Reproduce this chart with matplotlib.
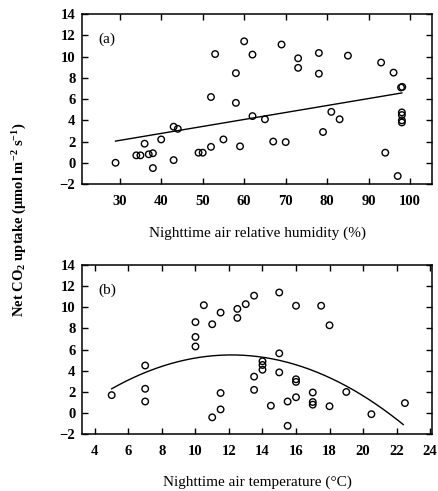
import matplotlib
matplotlib.use("Agg")
import matplotlib.pyplot as plt
import numpy as np

# ---- data: panel (a) relative humidity ----
rh_x = [29, 34, 35, 36, 37, 38, 38, 40, 43, 44, 43, 49, 50, 52, 52, 53, 55, 58, 58, 59,
        60, 62, 62, 65, 67, 69, 70, 73, 73, 78, 78, 79, 81, 83, 85, 93, 94, 96, 97, 97.8,
        98.1, 98, 98, 98, 98]
rh_y = [0.0, 0.7, 0.7, 1.8, 0.8, 0.9, -0.5, 2.2, 3.4, 3.2, 0.25, 0.95, 0.95, 1.5, 6.2,
        10.25, 2.2, 8.45, 5.65, 1.55, 11.45, 10.2, 4.4, 4.1, 2.0, 11.15, 1.95, 9.85, 8.95,
        10.35, 8.4, 2.9, 4.8, 4.1, 10.1, 9.45, 0.95, 8.5, -1.25, 7.1, 7.15, 4.75, 4.5,
        4.0, 3.8]
rh_fit_coef = [0.135, 0.0658]      # intercept, slope
rh_fit_range = [29, 98]

# ---- data: panel (b) temperature ----
t_x = [5, 7, 7, 7, 10, 10, 10, 10.5, 11, 11.5, 11.5, 11.5, 11, 12.5, 12.5, 13, 13.5, 13.5,
       13.5, 14, 14, 14, 14.5, 15, 15, 15, 15.5, 15.5, 16, 16, 16, 16, 17, 17, 17, 17.5,
       18, 18, 19, 20.5, 22.5]
t_y = [1.7, 4.5, 2.3, 1.1, 8.6, 7.2, 6.3, 10.2, 8.4, 9.5, 1.9, 0.35, -0.4, 9.85, 9.0,
       10.3, 11.1, 3.45, 2.2, 4.9, 4.55, 4.1, 0.7, 11.4, 5.65, 3.85, 1.1, -1.2, 10.15, 3.2,
       2.95, 1.5, 1.95, 1.05, 0.8, 10.15, 8.3, 0.65, 2.0, -0.1, 0.95]
t_fit_coef = [-3.74, 1.521, -0.0626]   # a + b x + c x^2
t_fit_range = [5, 22.4]

rh_ticks = [30, 40, 50, 60, 70, 80, 90, 100]
t_ticks = [4, 6, 8, 10, 12, 14, 16, 18, 20, 22, 24]
y_ticks = [-2, 0, 2, 4, 6, 8, 10, 12, 14]

plt.rcParams['font.family'] = ['Liberation Serif', 'DejaVu Serif']
plt.rcParams['mathtext.default'] = 'regular'

fig = plt.figure(figsize=(4.38, 4.91), dpi=100)
ax1 = fig.add_axes([0.188, 0.6253, 0.7977, 0.3456])
ax2 = fig.add_axes([0.188, 0.1155, 0.7977, 0.3448])

def style(ax, xticks):
    ax.set_ylim(-2, 14)
    ax.set_yticks(y_ticks)
    ax.set_xticks(xticks)
    ax.tick_params(direction='in', top=True, right=True, length=4, width=1,
                   labelsize=10.5, pad=5)
    ax.tick_params(axis='x', pad=8)
    for lab in ax.get_xticklabels() + ax.get_yticklabels():
        lab.set_fontweight('bold')
    for sp in ax.spines.values():
        sp.set_linewidth(1.1)

ax1.scatter(rh_x, rh_y, s=22, facecolors='none', edgecolors='black', linewidths=1.0, zorder=3)
xf = np.linspace(rh_fit_range[0], rh_fit_range[1], 100)
ax1.plot(xf, rh_fit_coef[0] + rh_fit_coef[1] * xf, color='black', lw=1.0)
ax1.set_xlim(21, 105.2)
style(ax1, rh_ticks)
ax1.text(0.045, 0.855, '(a)', transform=ax1.transAxes, fontsize=11, va='center', ha='left')
ax1.set_xlabel('Nighttime air relative humidity (%)', fontsize=11, labelpad=13)

ax2.scatter(t_x, t_y, s=22, facecolors='none', edgecolors='black', linewidths=1.0, zorder=3)
xf2 = np.linspace(t_fit_range[0], t_fit_range[1], 200)
ax2.plot(xf2, np.polyval(t_fit_coef[::-1], xf2), color='black', lw=1.0)
ax2.set_xlim(3.25, 24.1)
style(ax2, t_ticks)
ax2.text(0.045, 0.852, '(b)', transform=ax2.transAxes, fontsize=11, va='center', ha='left')
ax2.set_xlabel('Nighttime air temperature (\u00b0C)', fontsize=11, labelpad=12)

fig.text(0.046, 0.552, 'Net CO$_2$ uptake (\u03bcmol m$^{-2}$ s$^{-1}$)', rotation=90,
         fontsize=10.5, fontweight='bold', ha='center', va='center')

fig.savefig('out.png', dpi=100)
